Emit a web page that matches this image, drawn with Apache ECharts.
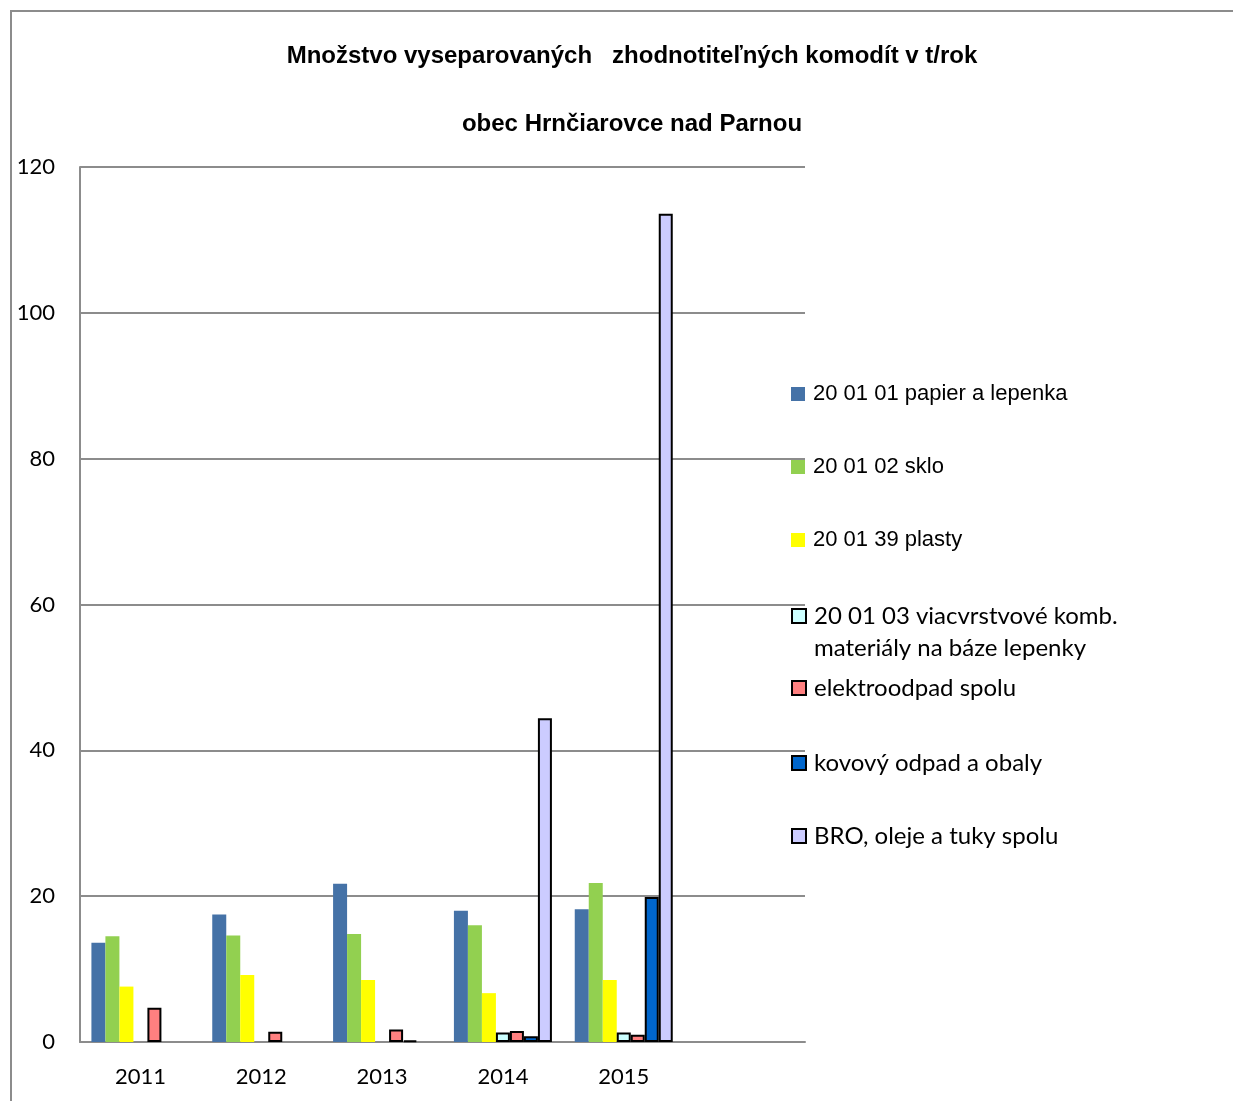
<!DOCTYPE html>
<html>
<head>
<meta charset="utf-8">
<script src="https://cdn.jsdelivr.net/npm/echarts@6/dist/echarts.min.js"></script>
<style>
  html, body { margin: 0; padding: 0; background: #fff; }
  #chart { width: 1233px; height: 1101px; }
</style>
</head>
<body>
<div id="chart"></div>
<script>
// data (t/rok), null = no bar drawn
var years = ['2011', '2012', '2013', '2014', '2015', ''];
var seriesNames = [
  '20 01 01 papier a lepenka',
  '20 01 02 sklo',
  '20 01 39 plasty',
  '20 01 03 viacvrstvové komb.\nmateriály na báze lepenky',
  'elektroodpad spolu',
  'kovový odpad a obaly',
  'BRO, oleje a tuky spolu'
];
var papier = [13.6, 17.5, 21.7, 18.0, 18.2];
var sklo = [14.5, 14.6, 14.8, 16.0, 21.8];
var plasty = [7.6, 9.2, 8.5, 6.7, 8.5];
var viacvrstvove = [null, null, null, 1.3, 1.3];
var elektro = [4.7, 1.4, 1.7, 1.5, 1.0];
var kovovy = [null, null, 0.2, 0.8, 19.9];
var bro = [null, null, null, 44.4, 113.6];

var colors = ['#4572A7', '#92D050', '#FFFF00', '#CCFFFF', '#FF8080', '#0066CC', '#CCCCFF'];
var seriesData = [papier, sklo, plasty, viacvrstvove, elektro, kovovy, bro];
var legendCenters = [394, 467, 540, 615, 688, 763, 836];

var narrow = "'Liberation Sans Narrow', 'Arial Narrow', 'Liberation Sans', sans-serif";
var body = "Lato, 'Open Sans', sans-serif";

var myChart = echarts.init(document.getElementById('chart'));

var series = seriesData.map(function(values, i) {
  var bordered = i >= 3;
  return {
    name: seriesNames[i],
    type: 'bar',
    barWidth: 14,
    barGap: '0%',
    data: values,
    itemStyle: {
      color: colors[i],
      borderColor: bordered ? '#000' : colors[i],
      borderWidth: bordered ? 2 : 0
    },
    emphasis: { disabled: true }
  };
});

var legends = seriesNames.map(function(name, i) {
  var twoLines = name.indexOf('\n') >= 0;
  return {
    orient: 'vertical',
    left: 791,
    top: twoLines ? legendCenters[i] - 47 : legendCenters[i] - 14,
    itemWidth: 14,
    itemHeight: 14,
    itemGap: 0,
    padding: 0,
    icon: 'rect',
    selectedMode: false,
    data: [name],
    // an empty first line keeps the icon level with the first text line
    formatter: twoLines ? function(n) { return '{e| }\n' + n; } : '{name}',
    textStyle: {
      fontFamily: i < 3 ? narrow : body,
      fontSize: i < 3 ? 22 : 24,
      color: '#000',
      lineHeight: twoLines ? 32 : 28,
      padding: [0, 0, 0, 3],
      rich: { e: { lineHeight: 32, fontSize: 24 } }
    }
  };
});

var option = {
  animation: false,
  color: colors,
  title: {
    text: 'Množstvo vyseparovaných   zhodnotiteľných komodít v t/rok\nobec Hrnčiarovce nad Parnou',
    left: 627,
    top: 17,
    textAlign: 'center',
    textStyle: {
      fontFamily: narrow,
      fontSize: 24,
      fontWeight: 'bold',
      color: '#000',
      lineHeight: 68
    }
  },
  legend: legends,
  grid: {
    left: 80,
    right: 428,
    top: 167,
    bottom: 59
  },
  xAxis: {
    type: 'category',
    data: years,
    axisLine: { lineStyle: { color: '#8c8c8c', width: 2 } },
    axisTick: { show: false },
    axisLabel: {
      fontFamily: body,
      fontSize: 22,
      color: '#000',
      margin: 24
    }
  },
  yAxis: {
    type: 'value',
    min: 0,
    max: 120,
    interval: 20,
    axisLine: { show: true, lineStyle: { color: '#8c8c8c', width: 2 } },
    axisTick: { show: false },
    axisLabel: {
      fontFamily: body,
      fontSize: 22,
      color: '#000',
      margin: 25
    },
    splitLine: { lineStyle: { color: '#8c8c8c', width: 2 } }
  },
  graphic: [{
    type: 'rect',
    shape: { x: 11, y: 11, width: 1240, height: 1120 },
    style: { fill: 'none', stroke: '#8c8c8c', lineWidth: 2 },
    silent: true
  }],
  series: series
};

myChart.setOption(option);
</script>
</body>
</html>
